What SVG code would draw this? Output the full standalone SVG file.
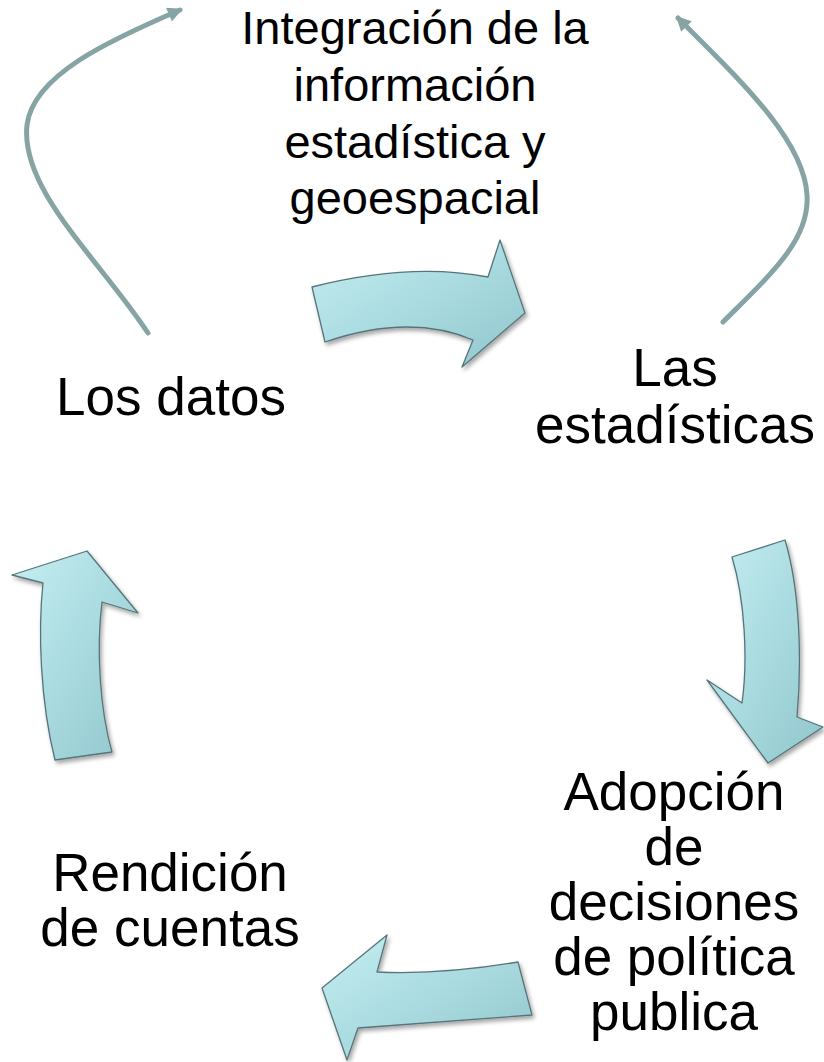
<svg xmlns="http://www.w3.org/2000/svg" width="824" height="1062" viewBox="0 0 824 1062">
<style>
.t{font-family:"Liberation Sans",Arial,sans-serif;fill:#000;text-anchor:middle}
.big{font-size:53px}
.top{font-size:47px}
.blk{fill:url(#g);stroke:#55757a;stroke-width:1.3;stroke-linejoin:round;filter:url(#sh)}
.con{fill:none;stroke:#87a4a5;stroke-width:5;stroke-linecap:round}
</style>
<defs>
<linearGradient id="g" x1="0" y1="0" x2="1" y2="1">
<stop offset="0" stop-color="#c6eef2"/>
<stop offset="0.5" stop-color="#a9dbe0"/>
<stop offset="1" stop-color="#92c6cc"/>
</linearGradient>
<filter id="sh" x="-20%" y="-20%" width="140%" height="140%">
<feGaussianBlur in="SourceAlpha" stdDeviation="2"/>
<feOffset dx="2" dy="3" result="b"/>
<feComponentTransfer><feFuncA type="linear" slope="0.35"/></feComponentTransfer>
<feMerge><feMergeNode/><feMergeNode in="SourceGraphic"/></feMerge>
</filter>
<marker id="ah" viewBox="0 0 10 10" refX="8" refY="5" markerWidth="3.4" markerHeight="3" orient="auto" markerUnits="strokeWidth">
<path d="M0,0 L10,5 L0,10 Z" fill="#87a4a5"/>
</marker>
</defs>

<g id="connectors">
<path class="con" d="M148,333 C100,260 20,190 27,125 C33,75 110,40 180,10" marker-end="url(#ah)"/>
<path class="con" d="M723,322 C770,275 810,240 807,195 C804,140 740,80 678,18" marker-end="url(#ah)"/>
<path class="blk" d="M312,287 Q410,262 488,277 L500,240 L525,313 L462,367 L473,340 Q410,313 325,342 Z"/>
<path class="blk" d="M732,557 C745,600 748,660 742,703 L707,680 L768,763 L823,727 L797,717 C802,660 800,590 785,540 Z"/>
<path class="blk" d="M518,962 Q440,975 377,972 L387,935 L322,988 L347,1060 L358,1028 Q443,1022 532,1015 Z"/>
<path class="blk" d="M55,760 C40,700 38,630 43,583 L12,575 L87,551 L138,613 L102,602 C96,650 100,710 112,752 Z"/>
</g>

<g id="node-integracion">
<text class="t top" x="415" y="44">Integración de la</text>
<text class="t top" x="415" y="101">información</text>
<text class="t top" x="415" y="158">estadística y</text>
<text class="t top" x="415" y="214">geoespacial</text>
</g>
<g id="node-datos">
<text class="t big" x="171" y="415">Los datos</text>
</g>
<g id="node-estadisticas">
<text class="t big" x="675" y="386">Las</text>
<text class="t big" x="675" y="443">estadísticas</text>
</g>
<g id="node-adopcion">
<text class="t big" x="674" y="810">Adopción</text>
<text class="t big" x="674" y="865">de</text>
<text class="t big" x="674" y="920">decisiones</text>
<text class="t big" x="674" y="975">de política</text>
<text class="t big" x="674" y="1030">publica</text>
</g>
<g id="node-rendicion">
<text class="t big" x="170" y="891">Rendición</text>
<text class="t big" x="170" y="946">de cuentas</text>
</g>
</svg>
